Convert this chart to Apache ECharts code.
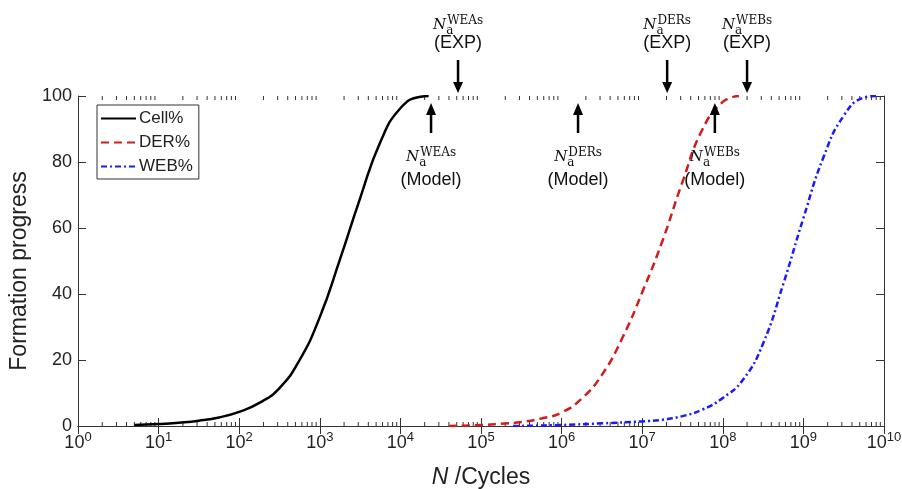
<!DOCTYPE html>
<html>
<head>
<meta charset="utf-8">
<script src="https://cdn.jsdelivr.net/npm/echarts@6/dist/echarts.min.js"></script>
<style>html,body{margin:0;padding:0;background:#fff}#c{width:902px;height:489px}</style>
</head>
<body>
<div id="c"></div>
<script>
// ---- Data ----
const cellN   = [5.01, 10, 17.8, 31.6, 56.2, 100, 178, 316, 562, 1000, 1778, 3162, 5623, 1e4, 1.778e4, 2.239e4];
const cellPct = [0.3, 0.6, 1.0, 1.6, 2.6, 4.3, 7.0, 11.5, 20, 33, 50.5, 69, 86, 96.3, 99.8, 100];

const derN   = [4e4, 1e5, 1.778e5, 3.162e5, 5.623e5, 1e6, 1.778e6, 3.162e6, 5.623e6, 1e7, 1.778e7, 3.162e7, 5.623e7, 1e8, 1.585e8];
const derPct = [0, 0.3, 0.7, 1.2, 2.3, 4.1, 8.3, 15.5, 26.5, 40.5, 56, 74, 90, 98.2, 100];

const webN   = [2.5e5, 1e6, 3.162e6, 1e7, 1.778e7, 3.162e7, 5.623e7, 1e8, 1.778e8, 3.162e8, 5.623e8, 1e9, 1.778e9, 3.162e9, 5.623e9, 7.943e9];
const webPct = [0, 0.3, 0.8, 1.4, 1.9, 3.0, 5.0, 8.5, 14, 25, 43, 63, 81.5, 94, 99.5, 100];

const seriesNames = ['Cell%', 'DER%', 'WEB%'];
const annotNames = ['WEAs', 'DERs', 'WEBs'];
const expN   = [5.19e4, 2.04e7, 2.0e8];
const modelN = [2.4e4, 1.6e6, 7.97e7];

const xMin = 1, xMax = 1e10;

// minor tick positions (2..9 x 10^k)
const minorTickN = [];
for (let k = 0; k < 10; k++) for (let m = 2; m <= 9; m++) minorTickN.push(m * Math.pow(10, k));

const axisColor = '#333';
const textColor = '#222';

const cv = document.createElement('canvas').getContext('2d');
function measure(t, font) { cv.font = font; return cv.measureText(t).width; }

const fN = 'italic 15px "DejaVu Serif"';
const fS = '12px "DejaVu Serif"';

function labelEls(cx, cy, name, paren, parenDy) {
  const wN = measure('N', fN), wS = measure(name, fS);
  const total = wN + 1 + wS;
  const x0 = cx - total / 2;
  return [
    {type: 'text', style: {x: x0, y: cy, text: 'N', font: fN, fill: '#111', verticalAlign: 'middle', align: 'left'}},
    {type: 'text', style: {x: x0 + wN + 1, y: cy - 4, text: name, font: fS, fill: '#111', verticalAlign: 'middle', align: 'left'}},
    {type: 'text', style: {x: x0 + wN, y: cy + 5.5, text: 'a', font: fS, fill: '#111', verticalAlign: 'middle', align: 'left'}},
    {type: 'text', style: {x: cx, y: cy + parenDy, text: paren, font: '18px "Liberation Sans"', fill: '#111', verticalAlign: 'middle', align: 'center'}}
  ];
}

function arrowEls(x, tipY, baseY, endY) {
  const hw = 5;
  return [
    {type: 'line', shape: {x1: x, y1: baseY, x2: x, y2: endY}, style: {stroke: '#000', lineWidth: 2.5}},
    {type: 'polygon', shape: {points: [[x, tipY], [x - hw, baseY], [x + hw, baseY]]}, style: {fill: '#000'}}
  ];
}

const chart = echarts.init(document.getElementById('c'), null, {renderer: 'canvas'});

const logAxisBase = {
  type: 'log', logBase: 10, min: xMin, max: xMax, interval: 1,
  axisLine: {show: true, lineStyle: {color: axisColor, width: 1}},
  axisTick: {show: true, inside: true, length: 8, lineStyle: {color: axisColor}},
  splitLine: {show: false},
  minorTick: {show: false}
};

const option = {
  animation: false,
  backgroundColor: '#fff',
  grid: {left: 78, right: 18, top: 96, bottom: 63, containLabel: false, outerBoundsMode: 'none'},
  legend: {
    orient: 'vertical', left: 97, top: 105,
    data: seriesNames,
    itemWidth: 35, itemHeight: 14, itemGap: 7,
    padding: [5, 6, 4, 3],
    borderColor: axisColor, borderWidth: 1, backgroundColor: '#fff',
    itemStyle: {opacity: 0},
    textStyle: {fontSize: 17, fontFamily: 'Liberation Sans', color: textColor, padding: [0, 0, 0, -2]}
  },
  xAxis: [
    Object.assign({}, logAxisBase, {
      position: 'bottom',
      axisLabel: {
        margin: 5,
        formatter: function (v) { const e = Math.round(Math.log10(v)); return '{b|10}{s|' + e + '}'; },
        rich: {
          b: {fontSize: 18, fontFamily: 'Liberation Sans', color: textColor, verticalAlign: 'bottom'},
          s: {fontSize: 13, fontFamily: 'Liberation Sans', color: textColor, verticalAlign: 'bottom', padding: [0, 0, 8, 0]}
        }
      },
      name: '{i|N} /Cycles', nameLocation: 'middle', nameGap: 40,
      nameTextStyle: {
        fontSize: 23, fontFamily: 'Liberation Sans', color: textColor,
        rich: {i: {fontSize: 23, fontFamily: 'Liberation Sans', fontStyle: 'italic', color: textColor}}
      }
    }),
    Object.assign({}, logAxisBase, {position: 'top', axisLabel: {show: false}})
  ],
  yAxis: [
    {
      type: 'value', min: 0, max: 100, interval: 20, position: 'left',
      axisLine: {show: true, lineStyle: {color: axisColor}},
      axisTick: {show: true, inside: true, length: 8, lineStyle: {color: axisColor}},
      splitLine: {show: false},
      axisLabel: {fontSize: 18, fontFamily: 'Liberation Sans', color: textColor, margin: 6},
      name: 'Formation progress', nameLocation: 'middle', nameGap: 45,
      nameTextStyle: {fontSize: 23, fontFamily: 'Liberation Sans', color: textColor, padding: [0, 20, 0, 0]}
    },
    {
      type: 'value', min: 0, max: 100, interval: 20, position: 'right',
      axisLine: {show: true, lineStyle: {color: axisColor}},
      axisTick: {show: true, inside: true, length: 8, lineStyle: {color: axisColor}},
      splitLine: {show: false}, axisLabel: {show: false}
    }
  ],
  series: [
    {
      name: seriesNames[0], type: 'line', symbol: 'none', smooth: 0.5,
      data: cellN.map((n, i) => [n, cellPct[i]]),
      lineStyle: {color: '#000', width: 2.5, type: 'solid'}, itemStyle: {color: '#000'}, z: 3
    },
    {
      name: seriesNames[1], type: 'line', symbol: 'none', smooth: 0.5,
      data: derN.map((n, i) => [n, derPct[i]]),
      lineStyle: {color: '#d01c1c', width: 2.5, type: [8, 5]}, itemStyle: {color: '#d01c1c'}, z: 3
    },
    {
      name: seriesNames[2], type: 'line', symbol: 'none', smooth: 0.5,
      data: webN.map((n, i) => [n, webPct[i]]),
      lineStyle: {color: '#1a1aff', width: 2.5, type: [6, 3, 2, 3]}, itemStyle: {color: '#1a1aff'}, z: 3
    },
    {
      name: 'minorTicks', type: 'custom', silent: true, clip: false,
      data: minorTickN.map(n => [n, 0]),
      renderItem: function (params, api) {
        const b = api.coord([api.value(0), 0]);
        const t = api.coord([api.value(0), 100]);
        return {type: 'group', children: [
          {type: 'line', shape: {x1: b[0], y1: b[1], x2: b[0], y2: b[1] - 4}, style: {stroke: axisColor, lineWidth: 1}},
          {type: 'line', shape: {x1: t[0], y1: t[1], x2: t[0], y2: t[1] + 4}, style: {stroke: axisColor, lineWidth: 1}}
        ]};
      },
      z: 1
    },
    {
      name: 'expAnnot', type: 'custom', silent: true, clip: false,
      data: expN.map((n, i) => [n, i]),
      renderItem: function (params, api) {
        const p = api.coord([api.value(0), 100]);
        const x = p[0], T = p[1];
        const name = annotNames[api.value(1)];
        return {type: 'group', children:
          arrowEls(x, T - 3, T - 14, T - 36).concat(labelEls(x, T - 71, name, '(EXP)', 18))};
      },
      z: 5
    },
    {
      name: 'modelAnnot', type: 'custom', silent: true, clip: false,
      data: modelN.map((n, i) => [n, i]),
      renderItem: function (params, api) {
        const p = api.coord([api.value(0), 100]);
        const x = p[0], T = p[1];
        const name = annotNames[api.value(1)];
        return {type: 'group', children:
          arrowEls(x, T + 7, T + 19, T + 37).concat(labelEls(x, T + 61, name, '(Model)', 23))};
      },
      z: 5
    }
  ]
};
chart.setOption(option);
</script>
</body>
</html>
